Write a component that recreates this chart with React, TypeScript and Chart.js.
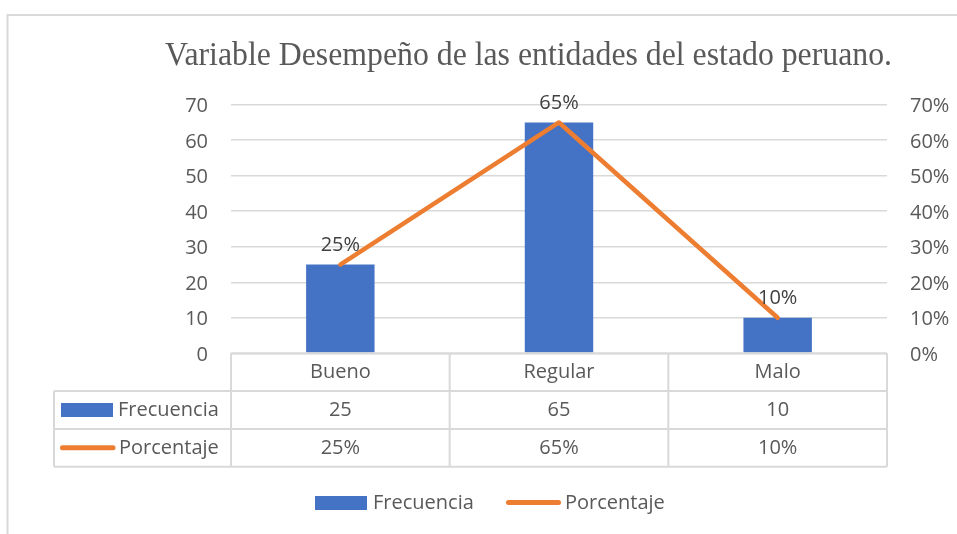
import { useEffect, useRef } from "react";
import { Chart, registerables } from "chart.js";

Chart.register(...registerables);

const TITLE = "Variable Desempeño de las entidades del estado peruano.";
const categories = ["Bueno", "Regular", "Malo"];
const seriesNames = ["Frecuencia", "Porcentaje"];
const frecuencia = [25, 65, 10];
const porcentaje = [25, 65, 10];
const axisMax = 70;
const axisStep = 10;

const BLUE = "#4472C4";
const ORANGE = "#ED7D31";
const GRID = "#D9D9D9";
const TEXT = "#595959";
const LABEL = "#404040";
const FONT = "'Open Sans', sans-serif";

const overlay = {
  id: "overlay",
  beforeDraw(chart: any) {
    const ctx = chart.ctx as CanvasRenderingContext2D;
    ctx.save();
    // outer border
    ctx.strokeStyle = GRID;
    ctx.lineWidth = 2;
    ctx.beginPath();
    ctx.moveTo(7.5, 534);
    ctx.lineTo(7.5, 15);
    ctx.lineTo(957, 15);
    ctx.stroke();
    // title
    ctx.fillStyle = TEXT;
    ctx.font = "33px 'Liberation Serif', 'Times New Roman', serif";
    ctx.textBaseline = "alphabetic";
    ctx.textAlign = "left";
    const w = ctx.measureText(TITLE).width;
    const target = 727;
    ctx.translate(165, 64.5);
    ctx.scale(target / w, 1);
    ctx.fillText(TITLE, 0, 0);
    ctx.restore();
  },
  afterDraw(chart: any) {
    const ctx = chart.ctx as CanvasRenderingContext2D;
    const area = chart.chartArea;
    const n = categories.length;
    const colW = (area.right - area.left) / n;
    const rowH = 37.8;
    const r0 = area.bottom;
    const r1 = r0 + rowH;
    const r2 = r1 + rowH;
    const r3 = r2 + rowH;
    const hdrLeft = 54;

    ctx.save();
    // data labels on line
    const meta = chart.getDatasetMeta(1);
    ctx.font = `20px ${FONT}`;
    ctx.fillStyle = LABEL;
    ctx.textAlign = "center";
    ctx.textBaseline = "middle";
    meta.data.forEach((pt: any, i: number) => {
      ctx.fillText(porcentaje[i] + "%", pt.x, pt.y - 19);
    });

    // data table grid
    ctx.strokeStyle = GRID;
    ctx.lineWidth = 2;
    ctx.beginPath();
    ctx.moveTo(area.left, r0);
    ctx.lineTo(area.right, r0);
    [r1, r2, r3].forEach((y) => {
      ctx.moveTo(hdrLeft, y);
      ctx.lineTo(area.right, y);
    });
    for (let i = 0; i <= n; i++) {
      const x = area.left + i * colW;
      ctx.moveTo(x, r0);
      ctx.lineTo(x, r3);
    }
    ctx.moveTo(hdrLeft, r1);
    ctx.lineTo(hdrLeft, r3);
    ctx.stroke();

    // table text
    ctx.fillStyle = TEXT;
    ctx.font = `20px ${FONT}`;
    ctx.textAlign = "center";
    ctx.textBaseline = "middle";
    const xs = chart.scales.x;
    categories.forEach((c, i) => {
      const cx = xs.getPixelForValue(i);
      ctx.fillText(c, cx, (r0 + r1) / 2);
      ctx.fillText(String(frecuencia[i]), cx, (r1 + r2) / 2);
      ctx.fillText(porcentaje[i] + "%", cx, (r2 + r3) / 2);
    });

    // row headers
    ctx.textAlign = "left";
    ctx.fillStyle = BLUE;
    ctx.fillRect(61, (r1 + r2) / 2 - 7, 52, 14);
    ctx.fillStyle = TEXT;
    ctx.fillText(seriesNames[0], 118, (r1 + r2) / 2);
    ctx.strokeStyle = ORANGE;
    ctx.lineWidth = 5;
    ctx.lineCap = "round";
    ctx.beginPath();
    ctx.moveTo(62.5, (r2 + r3) / 2);
    ctx.lineTo(113, (r2 + r3) / 2);
    ctx.stroke();
    ctx.fillText(seriesNames[1], 119, (r2 + r3) / 2);

    // legend
    const ly = 503;
    ctx.fillStyle = BLUE;
    ctx.fillRect(315, ly - 7, 52, 14);
    ctx.fillStyle = TEXT;
    ctx.fillText(seriesNames[0], 373, ly);
    ctx.beginPath();
    ctx.moveTo(508.5, ly - 0.5);
    ctx.lineTo(558.5, ly - 0.5);
    ctx.stroke();
    ctx.fillText(seriesNames[1], 565, ly);
    ctx.restore();
  },
};

export default function App() {
  const ref = useRef<HTMLCanvasElement | null>(null);
  useEffect(() => {
    if (!ref.current) return;
    const chart = new Chart(ref.current, {
      data: {
        labels: categories,
        datasets: [
          {
            type: "bar",
            label: seriesNames[0],
            data: frecuencia,
            backgroundColor: BLUE,
            yAxisID: "y",
            barPercentage: 0.313,
            categoryPercentage: 1,
            order: 2,
          },
          {
            type: "line",
            label: seriesNames[1],
            data: porcentaje,
            borderColor: ORANGE,
            backgroundColor: ORANGE,
            borderWidth: 4.5,
            borderCapStyle: "round",
            borderJoinStyle: "round",
            pointRadius: 0,
            yAxisID: "y1",
            order: 1,
          },
        ],
      } as any,
      options: {
        responsive: false,
        animation: false,
        devicePixelRatio: 1,
        layout: { padding: { top: 104.7, bottom: 180.7, left: 0, right: 0 } },
        plugins: {
          legend: { display: false },
          title: { display: false },
          tooltip: { enabled: false },
        },
        scales: {
          x: { type: "category", display: false, offset: true },
          y: {
            position: "left",
            min: 0,
            max: axisMax,
            border: { display: false },
            grid: { color: GRID, lineWidth: 1.5, drawTicks: false },
            ticks: {
              stepSize: axisStep,
              padding: 23,
              labelOffset: 2,
              color: TEXT,
              font: { family: FONT, size: 20 },
            },
            afterFit: (s: any) => {
              s.width = 231;
            },
          },
          y1: {
            position: "right",
            min: 0,
            max: axisMax,
            border: { display: false },
            grid: { display: false, drawTicks: false },
            ticks: {
              stepSize: axisStep,
              padding: 23,
              labelOffset: 2,
              color: TEXT,
              font: { family: FONT, size: 20 },
              callback: (v: any) => v + "%",
            },
            afterFit: (s: any) => {
              s.width = 70;
            },
          },
        },
      } as any,
      plugins: [overlay],
    });
    return () => chart.destroy();
  }, []);
  return (
    <div style={{ position: "absolute", left: 0, top: 0, width: 957, height: 534, background: "#fff" }}>
      <canvas ref={ref} width={957} height={534} style={{ display: "block" }} />
    </div>
  );
}
